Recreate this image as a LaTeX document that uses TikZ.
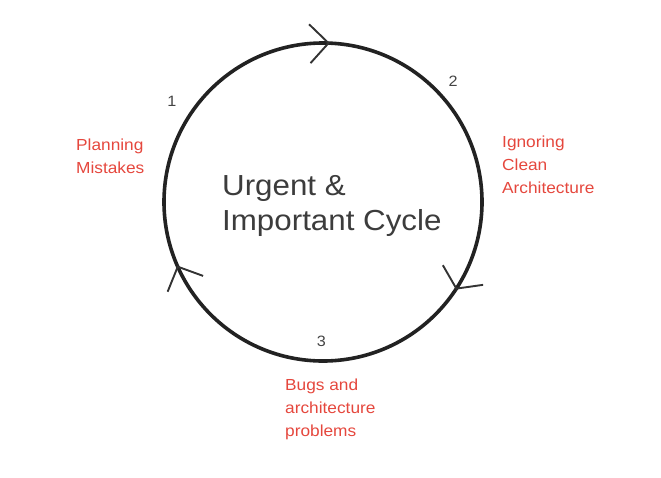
\documentclass[tikz,border=0pt]{standalone}
\usepackage{fontspec}
\setmainfont{Liberation Sans}[FakeStretch=1.08]
\usetikzlibrary{calc}
\definecolor{ring}{HTML}{222222}
\definecolor{chev}{HTML}{333333}
\definecolor{lblred}{HTML}{E5473D}
\definecolor{numgray}{HTML}{444444}
\definecolor{titlegray}{HTML}{3C3C3C}
\tikzset{
  ringline/.style={draw=ring, line width=3.6pt},
  chevron/.style={draw=chev, line width=1.9pt},
  steplabel/.style={text=lblred, font=\fontsize{16}{22.7}\selectfont, align=left, anchor=north west, inner sep=0pt},
  numlabel/.style={text=numgray, font=\fontsize{15}{18}\selectfont, inner sep=0pt},
}
% #1 position angle on ring, #2 and #3 arm directions
\newcommand{\chevronat}[3]{%
  \coordinate (tip) at ($(c)+(#1:159)$);
  \draw[chevron] ($(tip)+(#2:27)$) -- (tip) -- ($(tip)+(#3:27)$);
}
\begin{document}
\begin{tikzpicture}[x=1pt,y=-1pt]
\useasboundingbox (0,0) rectangle (661,477);
\coordinate (c) at (323,202);
\draw[ringline] (c) circle (159);
\chevronat{-88}{-136}{-228}
\chevronat{33}{-8}{-120}
\chevronat{156}{112}{20}
\node[numlabel] (n1) at (172,101) {1};
\node[numlabel] (n2) at (453,81) {2};
\node[numlabel] (n3) at (321.5,341) {3};
\node[steplabel] (s1) at (76,139) {Planning\\Mistakes};
\node[steplabel] (s2) at (502,136) {Ignoring\\Clean\\Architecture};
\node[steplabel] (s3) at (285,379) {Bugs and\\architecture\\problems};
\node[text=titlegray, font=\fontsize{29}{35.5}\selectfont, align=left, anchor=north west, inner sep=0pt] (title) at (222,175) {Urgent \&\\Important Cycle};
\end{tikzpicture}
\end{document}
